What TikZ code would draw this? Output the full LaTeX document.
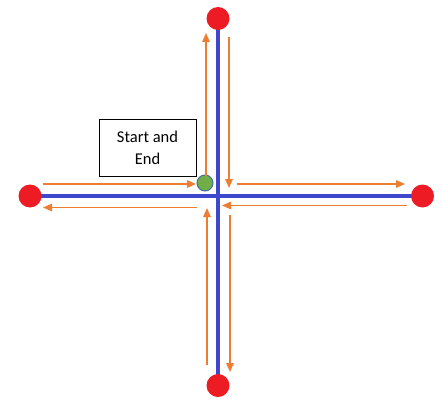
\documentclass[tikz,border=0pt]{standalone}
\usepackage{fontspec}
\setmainfont{Carlito}
\usetikzlibrary{arrows.meta}
\definecolor{dotred}{HTML}{ED1C24}
\definecolor{axisblue}{HTML}{3F48CC}
\definecolor{flow}{HTML}{ED7D31}
\definecolor{startgreen}{HTML}{70AD47}
\definecolor{startedge}{HTML}{41719C}
\tikzset{
  endpoint/.style={circle, fill=dotred, draw=none, minimum size=23pt, inner sep=0pt},
  startdot/.style={circle, fill=startgreen, draw=startedge, line width=1pt, minimum size=16pt, inner sep=0pt},
  axis/.style={draw=axisblue, line width=3.5pt},
  flowline/.style={draw=flow, line width=1.4pt, -{Triangle[length=9pt,width=7.5pt]}},
  labelbox/.style={draw=black, line width=0.8pt, minimum width=97pt, minimum height=57pt, align=center, font=\fontsize{16.5}{22}\selectfont, inner sep=0pt}
}
\begin{document}
\begin{tikzpicture}[x=1pt,y=-1pt]
\useasboundingbox (0,0) rectangle (443,398);
% axes
\coordinate (T) at (218,18.5);
\coordinate (B) at (218,385.5);
\coordinate (L) at (30,196);
\coordinate (R) at (422.5,196);
\draw[axis] (T) -- (B);
\draw[axis] (L) -- (R);
\node[endpoint] (top) at (T) {};
\node[endpoint] (bottom) at (B) {};
\node[endpoint] (left) at (L) {};
\node[endpoint] (right) at (R) {};
% start
\node[startdot] (start) at (205,183) {};
\node[labelbox] (lbl) at (147.5,147.5) {Start and\\End};
% flow coordinates
\coordinate (a1) at (206,176);   \coordinate (a2) at (206,33);
\coordinate (b1) at (229,37);    \coordinate (b2) at (229,188);
\coordinate (c1) at (43,184);    \coordinate (c2) at (196,184);
\coordinate (d1) at (197,207.5); \coordinate (d2) at (43,207.5);
\coordinate (e1) at (237,184);   \coordinate (e2) at (405,184);
\coordinate (f1) at (407,205.5); \coordinate (f2) at (222,205.5);
\coordinate (g1) at (207,365);   \coordinate (g2) at (207,208);
\coordinate (h1) at (230,215);   \coordinate (h2) at (230,372);
\draw[flowline] (a1) -- (a2);
\draw[flowline] (b1) -- (b2);
\draw[flowline] (c1) -- (c2);
\draw[flowline] (d1) -- (d2);
\draw[flowline] (e1) -- (e2);
\draw[flowline] (f1) -- (f2);
\draw[flowline] (g1) -- (g2);
\draw[flowline] (h1) -- (h2);
\end{tikzpicture}
\end{document}
